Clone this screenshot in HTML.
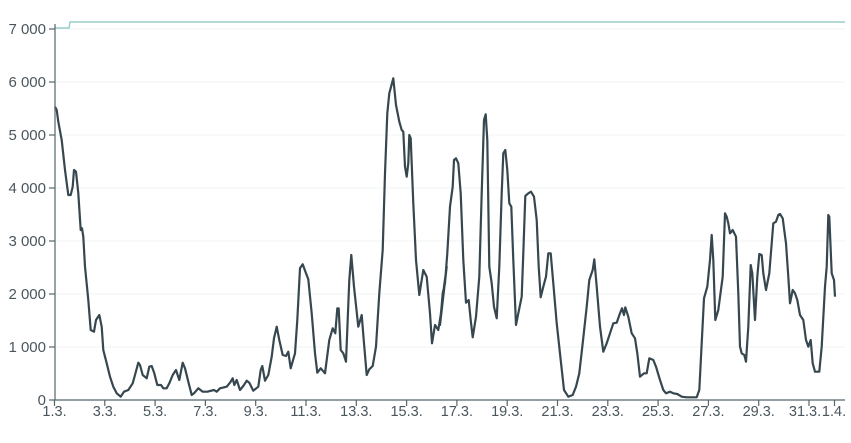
<!DOCTYPE html>
<html><head><meta charset="utf-8"><style>
html,body{margin:0;padding:0;background:#fff;}
svg{display:block;font-family:"Liberation Sans",sans-serif;}
</style></head><body>
<svg id="s" width="851" height="443" viewBox="0 0 851 443" xmlns="http://www.w3.org/2000/svg">
<g id="grid" stroke="#f1f3f3" stroke-width="1"></g>
<polyline points="55,28 69,28 70,22 845,22" fill="none" stroke="#9bcdc8" stroke-width="1.5"/>
<polyline id="series" fill="none" stroke="#37474f" stroke-width="2.2" stroke-linejoin="round"/>
<line x1="55" y1="24" x2="55" y2="400" stroke="#55656c" stroke-width="1.2"/>
<line x1="55" y1="400" x2="845" y2="400" stroke="#55656c" stroke-width="1.2"/>
<g id="yax" fill="#4a565c" font-size="15" text-anchor="end"></g>
<g id="xax" fill="#4a565c" font-size="14.5" text-anchor="middle"></g>
</svg>
<script>
var NS="http://www.w3.org/2000/svg";
function el(p,t,a,txt){var e=document.createElementNS(NS,t);for(var k in a)e.setAttribute(k,a[k]);if(txt!=null)e.textContent=txt;p.appendChild(e);return e;}
var grid=document.getElementById('grid'),yax=document.getElementById('yax'),xax=document.getElementById('xax');
var labs=["0","1 000","2 000","3 000","4 000","5 000","6 000","7 000"];
for(var k=0;k<8;k++){var y=400-53*k;
 if(k>0)el(grid,'line',{x1:56,y1:y,x2:845,y2:y});
 el(yax,'line',{x1:49,y1:y,x2:55,y2:y,stroke:'#55656c','stroke-width':1.2});
 el(yax,'text',{x:46,y:y+5},labs[k]);}
var xl=["1.3.","3.3.","5.3.","7.3.","9.3.","11.3.","13.3.","15.3.","17.3.","19.3.","21.3.","23.3.","25.3.","27.3.","29.3.","31.3."];
for(var i=0;i<16;i++){var x=54.5+i*2*25.15;
 el(xax,'line',{x1:x,y1:400,x2:x,y2:406,stroke:'#55656c','stroke-width':1.2});
 el(xax,'text',{x:x+(i==15?-4:0),y:416},xl[i]);}
el(xax,'line',{x1:834.5,y1:400,x2:834.5,y2:406,stroke:'#55656c','stroke-width':1.2});
el(xax,'text',{x:834,y:416},"1.4.");
var a=[15,140,20,150,25,185,35,240,45,330,55,405,62,405,68,380,72,330,78,335,85,400,92,510,96,505,100,530,105,620,115,720,122,810,132,815,138,780,148,765,155,800,160,870,170,910,180,950,190,980,200,1000,212,1010,222,995,235,990,248,970,255,945,265,908,270,915,278,945,290,955,298,920,305,918,313,940,322,975,333,975,340,985,350,985,358,970,368,945,378,930,388,960,398,908,405,925,415,965,425,1005,432,1000,445,985,458,995,472,995,492,990,500,995,510,985,530,980,540,968,548,955,553,975,560,960,570,990,580,978,590,962,598,968,610,992,625,980,632,930,637,918,645,962,655,945,665,890,672,835,680,800,688,840,698,885,708,888,715,875,722,925,735,880,742,780,750,625,758,613,768,640,775,658,785,760,795,880,802,938,812,925,825,940,838,840,848,805,856,820,862,745,866,745,872,870,880,880,888,905,898,660,904,585,912,680,925,800,935,765,942,850,950,945,958,928,968,918,978,860,988,700,998,570,1005,340,1012,160,1018,100,1030,55,1038,135,1048,185,1055,210,1060,215,1065,320,1070,350,1075,310,1078,225,1082,235,1090,430,1098,600,1108,705,1120,630,1130,650,1140,760,1146,850,1155,795,1165,810,1172,765,1182,680,1190,620];
var b=[0,795,8,700,15,670,22,580,30,440,38,380,42,300,48,295,55,310,62,400,70,600,78,728,86,720,92,780,98,832,108,770,118,650,125,400,132,180,137,163,142,240,148,620,155,670,162,740,170,775,178,620,185,400,190,280,196,270,202,330,208,430,214,440,220,600,228,795,235,760,245,710,250,580,256,408,265,400,273,395,282,410,290,480,296,620,302,712,310,680,318,650,325,580,332,580,340,670,350,790,362,900,372,990,385,1010,398,1005,408,980,418,940,428,850,440,740,448,660,458,630,463,598,470,680,480,800,490,875,500,850,510,820,520,790,530,788,540,760,546,745,552,765,556,742,565,770,575,820,585,835,592,880,600,950,612,940,620,940,628,895,640,900,648,920,660,960,670,990,678,1000,690,995,700,1000,712,1002,725,1010,740,1012,770,1012,778,990,785,850,792,715,802,680,810,600,815,525,820,600,826,780,835,750,848,650,855,460,860,470,865,490,870,520,878,510,888,530,895,700,900,860,905,880,913,885,918,905,925,800,932,615,937,640,945,780,952,650,958,582,965,585,970,640,978,690,988,640,1000,490,1008,485,1015,465,1020,462,1028,475,1038,550,1045,650,1050,730,1058,690,1065,700,1072,720,1080,765,1090,780,1098,840,1105,860,1112,840,1118,910,1125,935,1138,935,1145,860,1155,680,1160,620,1165,465,1168,470,1175,640,1182,660,1185,710];
var pts=[];
for(var i=0;i<a.length;i+=2)pts.push((50+a[i]/3).toFixed(1)+","+(60+a[i+1]/3).toFixed(1));
for(var i=0;i<b.length;i+=2)pts.push((440+b[i]/3).toFixed(1)+","+(60+b[i+1]/3).toFixed(1));
document.getElementById('series').setAttribute('points',pts.join(" "));
</script>
</body></html>
